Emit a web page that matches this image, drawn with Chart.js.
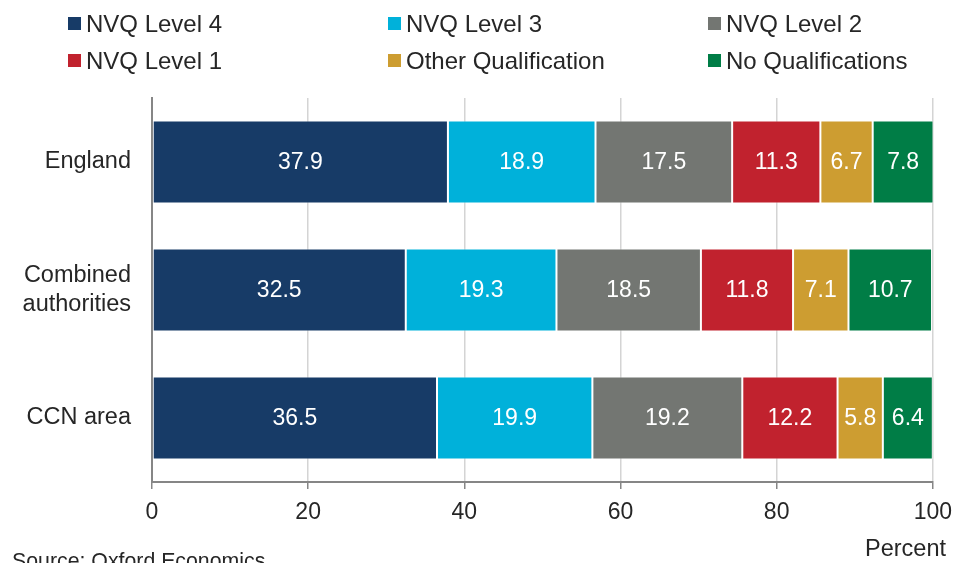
<!DOCTYPE html>
<html>
<head>
<meta charset="utf-8">
<script src="https://cdn.jsdelivr.net/npm/chart.js@4/dist/chart.umd.min.js"></script>
<style>
  html, body { margin: 0; padding: 0; background: #fff; overflow: hidden; }
  #wrap { position: relative; width: 962px; height: 563px; overflow: hidden; font-family: "Liberation Sans", Arial, sans-serif; color: #262626; }
  #chart { position: absolute; left: 0; top: 0; }
  .leg { position: absolute; font-size: 24px; line-height: 28px; white-space: nowrap; }
  .leg span.sw { position: absolute; left: 0; top: 7px; width: 13px; height: 13px; }
  .leg span.tx { position: absolute; left: 18px; top: 0; }
  .note { position: absolute; white-space: nowrap; }
</style>
</head>
<body>
<div id="wrap">
  <canvas id="chart" width="962" height="563"></canvas>
  <div id="legend"></div>
  <div class="note" style="right:16px; top:535px; font-size:23.5px;">Percent</div>
  <div class="note" style="left:12px; top:549px; font-size:21.3px;">Source: Oxford Economics</div>
</div>
<script>
const areas = [['England'], ['Combined', 'authorities'], ['CCN area']];
const seriesNames = ['NVQ Level 4', 'NVQ Level 3', 'NVQ Level 2', 'NVQ Level 1', 'Other Qualification', 'No Qualifications'];
const seriesColors = ['#173b67', '#00b1da', '#737672', '#c1222e', '#cd9d31', '#007d46'];

const nvq4 = [37.9, 32.5, 36.5];
const nvq3 = [18.9, 19.3, 19.9];
const nvq2 = [17.5, 18.5, 19.2];
const nvq1 = [11.3, 11.8, 12.2];
const otherQual = [6.7, 7.1, 5.8];
const noQual = [7.8, 10.7, 6.4];

const xTicks = [0, 20, 40, 60, 80, 100];

const seriesValues = [nvq4, nvq3, nvq2, nvq1, otherQual, noQual];

// legend: 3 columns x 2 rows, like the original
const legendEl = document.getElementById('legend');
seriesNames.forEach(function (name, i) {
    const col = i % 3, row = Math.floor(i / 3);
    const d = document.createElement('div');
    d.className = 'leg';
    d.style.left = (68 + col * 320) + 'px';
    d.style.top = (10 + row * 37) + 'px';
    d.innerHTML = '<span class="sw" style="background:' + seriesColors[i] + '"></span><span class="tx">' + name + '</span>';
    legendEl.appendChild(d);
});

// draw the numbers inside each segment
const barLabels = {
    id: 'barLabels',
    afterDatasetsDraw(chart) {
        const ctx = chart.ctx;
        ctx.save();
        ctx.font = '23px "Liberation Sans", Arial, sans-serif';
        ctx.fillStyle = '#ffffff';
        ctx.textAlign = 'center';
        ctx.textBaseline = 'middle';
        chart.data.datasets.forEach(function (ds, i) {
            chart.getDatasetMeta(i).data.forEach(function (bar, j) {
                const p = bar.getProps(['x', 'y', 'base'], true);
                ctx.fillText(ds.data[j].toFixed(1), (p.x + p.base) / 2, p.y + 1);
            });
        });
        ctx.restore();
    }
};

new Chart(document.getElementById('chart'), {
    type: 'bar',
    data: {
        labels: areas,
        datasets: seriesNames.map(function (name, i) {
            return {
                label: name,
                data: seriesValues[i],
                backgroundColor: seriesColors[i],
                borderColor: 'rgba(255,255,255,0.5)',
                borderWidth: 1,
                borderSkipped: false,
                barPercentage: 0.81,
                categoryPercentage: 0.8
            };
        })
    },
    options: {
        indexAxis: 'y',
        responsive: false,
        animation: false,
        layout: { padding: { top: 98, right: 23, left: 0, bottom: 0 } },
        plugins: {
            legend: { display: false },
            tooltip: { enabled: false }
        },
        scales: {
            x: {
                stacked: true,
                min: 0,
                max: 100,
                afterBuildTicks(axis) { axis.ticks = xTicks.map(v => ({ value: v })); },
                afterFit(axis) { axis.height = 81; },
                grid: { color: '#d4d4d4', lineWidth: 1.5, tickLength: 7, tickColor: '#868686' },
                border: { color: '#868686', width: 2 },
                ticks: {
                    padding: 10,
                    color: '#262626',
                    font: { family: '"Liberation Sans", Arial, sans-serif', size: 23 },
                    maxRotation: 0
                }
            },
            y: {
                stacked: true,
                afterFit(axis) { axis.width = 152; },
                grid: { display: false },
                border: { color: '#868686', width: 2 },
                ticks: {
                    padding: 13,
                    color: '#262626',
                    font: { family: '"Liberation Sans", Arial, sans-serif', size: 23.5, lineHeight: 1.2 }
                }
            }
        }
    },
    plugins: [barLabels]
});
</script>
</body>
</html>
